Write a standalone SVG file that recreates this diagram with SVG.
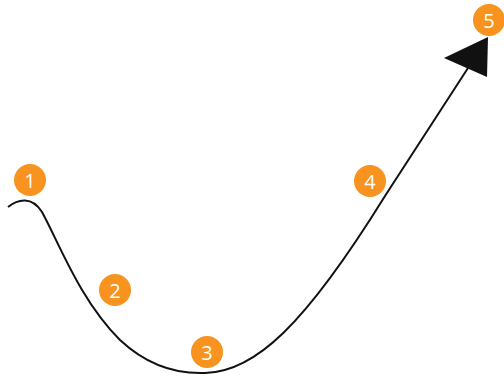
<svg xmlns="http://www.w3.org/2000/svg" width="504" height="378" viewBox="0 0 504 378">
<style>
.badge circle{fill:#f7931e}
.badge text{fill:#fff;font-family:"Open Sans","Liberation Sans",sans-serif;font-size:20px;text-anchor:middle;dominant-baseline:central}
.curve{fill:none;stroke:#111;stroke-width:2}
</style>
<rect width="504" height="378" fill="#fff"/>
<g id="connectors">
<path class="curve" d="M8,207 C18,199 32,196 42,212 C60,245 80,300 120,340 C150,368 180,374 205,373 C255,372 305,325 385,196 L468,68"/>
<polygon points="444,58 488,37 487,77" fill="#111"/>
</g>
<g id="n1" class="badge"><circle cx="30" cy="180" r="16"/><text x="30" y="180">1</text></g>
<g id="n2" class="badge"><circle cx="115" cy="290" r="16"/><text x="115" y="290">2</text></g>
<g id="n3" class="badge"><circle cx="207" cy="352" r="16"/><text x="207" y="352">3</text></g>
<g id="n4" class="badge"><circle cx="370" cy="181" r="16"/><text x="370" y="181">4</text></g>
<g id="n5" class="badge"><circle cx="489" cy="20" r="16"/><text x="489" y="20">5</text></g>
</svg>
